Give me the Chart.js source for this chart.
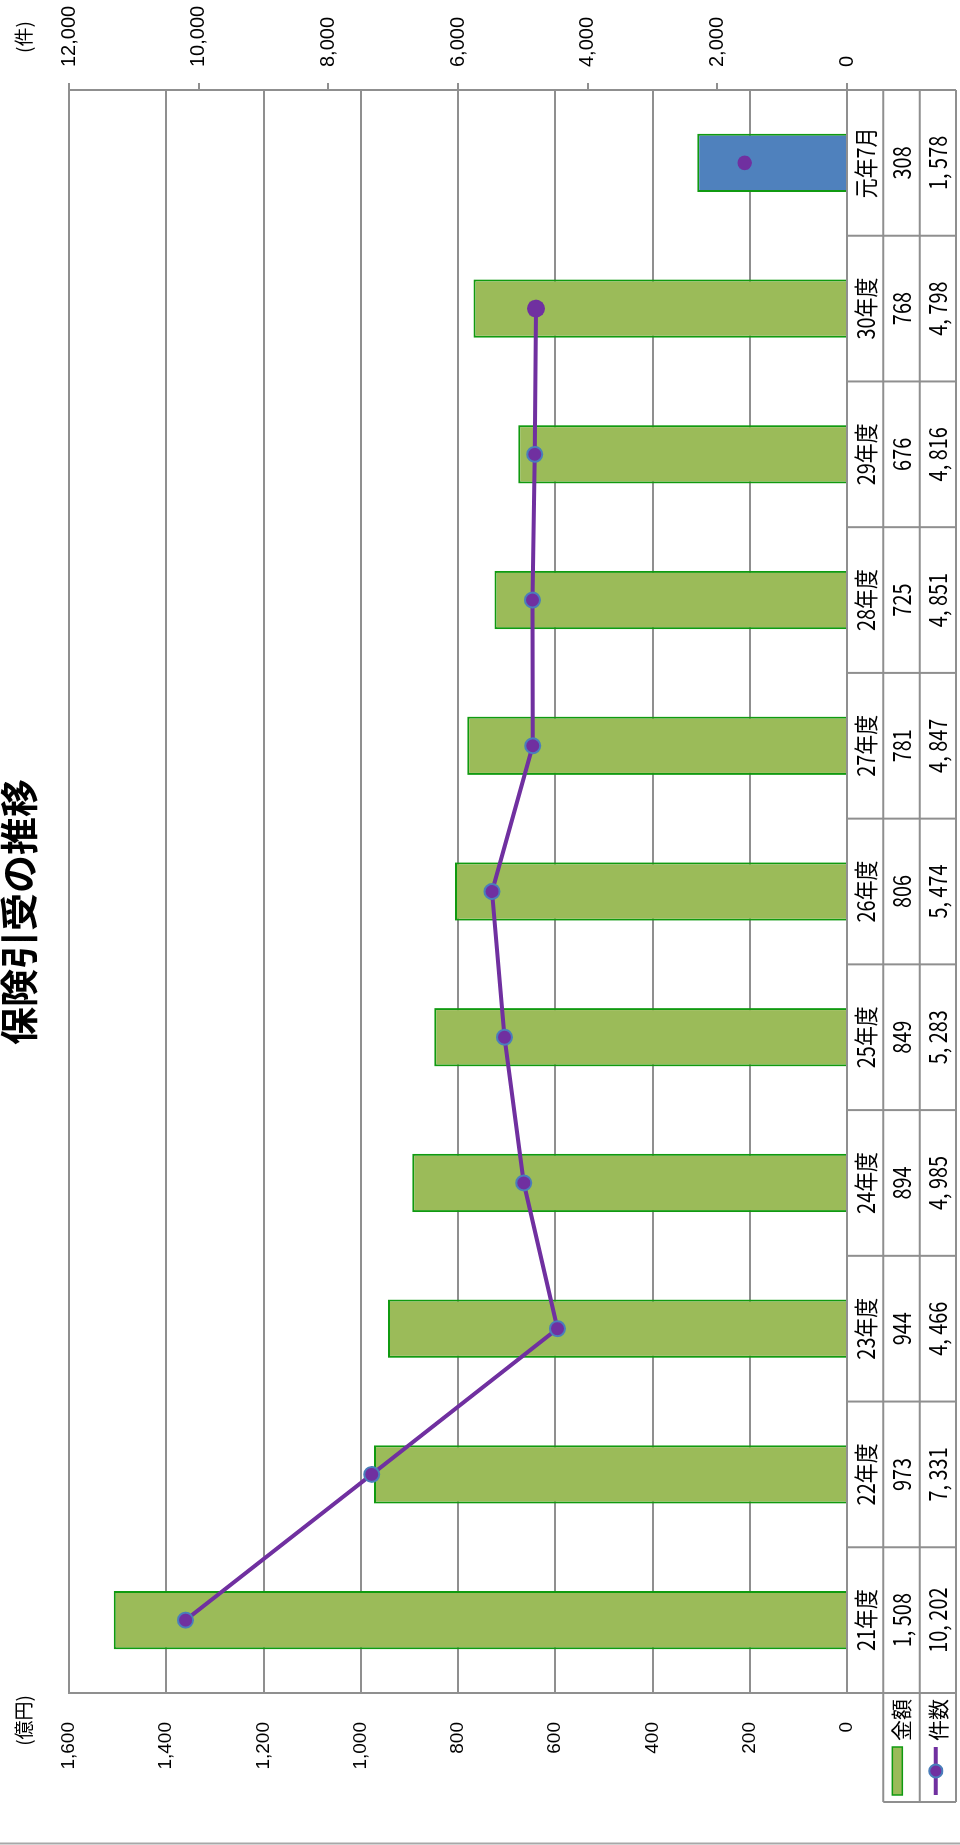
<!DOCTYPE html>
<html lang="ja">
<head>
<meta charset="utf-8">
<title>保険引受の推移</title>
<script src="https://cdn.jsdelivr.net/npm/chart.js@4.4.1/dist/chart.umd.min.js"></script>
<style>
  html, body { margin: 0; padding: 0; background: #fff; }
  #page { position: relative; width: 960px; height: 1845px; overflow: hidden; }
  /* the chart is laid out landscape and turned a quarter turn to the left */
  #turn { position: absolute; left: 0; top: 0; width: 1845px; height: 960px;
          transform-origin: 0 0; transform: translate(0, 1845px) rotate(-90deg); }
</style>
</head>
<body>
<div id="page"><div id="turn"><canvas id="chart" width="1845" height="960"></canvas></div></div>
<script>
const categories = ['21年度', '22年度', '23年度', '24年度', '25年度', '26年度', '27年度', '28年度', '29年度', '30年度', '元年7月'];
const amounts = [1508, 973, 944, 894, 849, 806, 781, 725, 676, 768, 308];      // 金額（億円）
const counts = [10202, 7331, 4466, 4985, 5283, 5474, 4847, 4851, 4816, 4798, 1578]; // 件数（件）
const amountTicks = [0, 200, 400, 600, 800, 1000, 1200, 1400, 1600];
const countTicks = [0, 2000, 4000, 6000, 8000, 10000, 12000];

const GRID = '#8f8f8f';
const PURPLE = '#7030a0';
const GREEN_FILL = '#9bbb59';
const GREEN_EDGE = '#109a10';
const BLUE_FILL = '#4f81bd';
const MARKER_EDGE = '#4a7ebb';

const last = categories.length - 1;
const axisFont = { family: '"Liberation Sans", Arial, sans-serif', size: 19 };
const jpFont = '"Noto Sans CJK JP", sans-serif';

const fmt = v => v.toLocaleString('en-US');
const tableFmt = v => v.toLocaleString('en-US').replace(/,/g, ', ');

// small helper: horizontally squeezed text, like the narrow gothic in the table
function squeezed(ctx, text, x, y, align, sx) {
  ctx.save();
  ctx.translate(x, y);
  ctx.scale(sx, 1);
  ctx.textAlign = align;
  ctx.fillText(text, 0, 0);
  ctx.restore();
}

function hline(ctx, x1, x2, y) {
  ctx.beginPath(); ctx.moveTo(x1, y); ctx.lineTo(x2, y); ctx.stroke();
}
function vline(ctx, x, y1, y2) {
  ctx.beginPath(); ctx.moveTo(x, y1); ctx.lineTo(x, y2); ctx.stroke();
}

const tablePlugin = {
  id: 'dataTable',
  afterDraw(chart) {
    const ctx = chart.ctx;
    const area = chart.chartArea;
    const xs = chart.scales.x;
    const step = xs.getPixelForValue(1) - xs.getPixelForValue(0);
    const rowH = (chart.height - area.bottom - 4) / 3;
    const r0 = area.bottom, r1 = r0 + rowH, r2 = r1 + rowH, r3 = r2 + rowH;
    const legendLeft = 43;

    ctx.save();
    // table grid
    ctx.strokeStyle = GRID;
    ctx.lineWidth = 2;
    hline(ctx, legendLeft, area.right, r1);
    hline(ctx, legendLeft, area.right, r2);
    hline(ctx, legendLeft, area.right, r3);
    vline(ctx, legendLeft, r1, r3);
    for (let i = 0; i <= categories.length; i++) {
      const x = xs.getPixelForValue(0) - step / 2 + i * step;
      vline(ctx, x, r0, r3);
    }

    // table text
    ctx.fillStyle = '#000';
    ctx.textBaseline = 'middle';
    ctx.font = '24px ' + jpFont;
    categories.forEach((c, i) => {
      const cx = xs.getPixelForValue(i);
      squeezed(ctx, c, cx, (r0 + r1) / 2 + 1, 'center', 0.83);
      squeezed(ctx, tableFmt(amounts[i]), cx, (r1 + r2) / 2, 'center', 0.83);
      squeezed(ctx, tableFmt(counts[i]), cx, (r2 + r3) / 2, 'center', 0.83);
    });

    // legend keys
    ctx.fillStyle = GREEN_FILL;
    ctx.strokeStyle = GREEN_EDGE;
    ctx.lineWidth = 1.5;
    ctx.fillRect(50, r1 + 9, 48, 10);
    ctx.strokeRect(50, r1 + 9, 48, 10);

    const ly = (r2 + r3) / 2 - 2;
    ctx.strokeStyle = PURPLE;
    ctx.lineWidth = 4;
    hline(ctx, 50, 98, ly);
    ctx.beginPath();
    ctx.arc(74, ly, 6.5, 0, Math.PI * 2);
    ctx.fillStyle = PURPLE;
    ctx.fill();
    ctx.strokeStyle = MARKER_EDGE;
    ctx.lineWidth = 2;
    ctx.stroke();

    ctx.fillStyle = '#000';
    ctx.font = '21px ' + jpFont;
    ctx.textAlign = 'left';
    ctx.fillText('金額', 104, (r1 + r2) / 2);
    ctx.fillText('件数', 104, (r2 + r3) / 2);

    // units and title
    ctx.font = '19px ' + jpFont;
    ctx.textAlign = 'right';
    ctx.fillText('(億円)', 150, 24);
    ctx.textAlign = 'left';
    ctx.fillText('(件)', 1792, 24);

    ctx.font = 'bold 38px ' + jpFont;
    ctx.textAlign = 'center';
    ctx.fillText('保険引受の推移', 933, 19);

    // page rule along the edge
    ctx.strokeStyle = '#a8a8a8';
    ctx.lineWidth = 2;
    vline(ctx, 1.5, 0, chart.height);
    ctx.restore();
  }
};

new Chart(document.getElementById('chart'), {
  data: {
    labels: categories,
    datasets: [
      {
        type: 'line',
        label: '件数',
        data: counts,
        yAxisID: 'y1',
        order: 0,
        borderColor: PURPLE,
        borderWidth: 4,
        // the latest month stands alone, no segment leading to it
        segment: {
          borderColor: c => (c.p1DataIndex === last ? 'rgba(0,0,0,0)' : PURPLE)
        },
        pointBackgroundColor: PURPLE,
        pointBorderColor: counts.map((v, i) => (i >= last - 1 ? PURPLE : MARKER_EDGE)),
        pointBorderWidth: counts.map((v, i) => (i >= last - 1 ? 0 : 2)),
        pointRadius: counts.map((v, i) => (i === last ? 7.3 : i === last - 1 ? 9 : 7.5)),
        tension: 0
      },
      {
        type: 'bar',
        label: '金額',
        data: amounts,
        yAxisID: 'y',
        order: 1,
        backgroundColor: amounts.map((v, i) => (i === last ? BLUE_FILL : GREEN_FILL)),
        borderColor: GREEN_EDGE,
        borderWidth: 2,
        barPercentage: 0.4,
        categoryPercentage: 1
      }
    ]
  },
  options: {
    responsive: false,
    animation: false,
    layout: { padding: { top: 69, left: 0, right: 0, bottom: 0 } },
    plugins: {
      legend: { display: false },
      tooltip: { enabled: false },
      title: { display: false }
    },
    scales: {
      x: {
        offset: true,
        ticks: { display: false },
        grid: { display: false },
        border: { display: true, color: GRID, width: 2 },
        afterFit: s => { s.height = 113; }
      },
      y: {
        position: 'left',
        min: amountTicks[0],
        max: amountTicks[amountTicks.length - 1],
        afterBuildTicks: s => { s.ticks = amountTicks.map(v => ({ value: v })); },
        ticks: { color: '#000', font: axisFont, padding: 29, callback: v => fmt(v) },
        grid: { color: GRID, lineWidth: 2, drawTicks: false },
        border: { display: true, color: GRID, width: 2 },
        afterFit: s => { s.width = 152; }
      },
      y1: {
        position: 'right',
        min: countTicks[0],
        max: countTicks[countTicks.length - 1],
        afterBuildTicks: s => { s.ticks = countTicks.map(v => ({ value: v })); },
        ticks: { color: '#000', font: { ...axisFont, size: 20 }, padding: 16, callback: v => fmt(v) },
        grid: { drawOnChartArea: false, color: GRID, lineWidth: 2, tickLength: 7 },
        border: { display: true, color: GRID, width: 2 },
        afterFit: s => { s.width = 90; }
      }
    }
  },
  plugins: [tablePlugin]
});
</script>
</body>
</html>
